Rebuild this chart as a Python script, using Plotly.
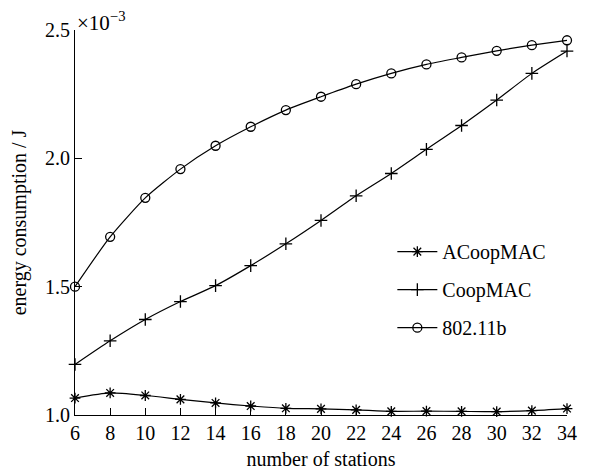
import plotly.graph_objects as go

stations = [6, 8, 10, 12, 14, 16, 18, 20, 22, 24, 26, 28, 30, 32, 34]
# energy consumption in units of 1e-3 J
acoopmac = [1.066, 1.086, 1.076, 1.061, 1.047, 1.035, 1.026, 1.024, 1.020, 1.014, 1.015, 1.014, 1.013, 1.017, 1.025]
coopmac = [1.197, 1.289, 1.372, 1.442, 1.504, 1.582, 1.667, 1.758, 1.854, 1.941, 2.035, 2.128, 2.227, 2.331, 2.418]
dot11b = [1.500, 1.694, 1.846, 1.958, 2.049, 2.123, 2.188, 2.240, 2.289, 2.331, 2.366, 2.393, 2.419, 2.441, 2.460]
y_ticks = [1.0, 1.5, 2.0, 2.5]
x_ticks = stations

FONT = "Liberation Serif"

fig = go.Figure()
series = [
    ("ACoopMAC", acoopmac, "asterisk-open"),
    ("CoopMAC", coopmac, "cross-thin-open"),
    ("802.11b", dot11b, "circle-open"),
]
for name, vals, sym in series:
    fig.add_trace(go.Scatter(
        x=stations, y=vals, name=name, mode="lines+markers", legendgroup=name,
        line=dict(color="black", width=1.2, shape="spline", smoothing=0.6),
        marker=dict(symbol=sym, size=9, color="black", line=dict(color="black", width=1.3)),
        cliponaxis=False,
    ))

# page body has an 8px default margin, so the figure is sized/positioned to compensate
fig.update_layout(
    width=586, height=466,
    margin=dict(l=67, r=27, t=22, b=59, autoexpand=False),
    paper_bgcolor="white", plot_bgcolor="white",
    font=dict(family=FONT, color="black", size=20),
    showlegend=True,
    legend=dict(
        x=0.645, y=0.475, xanchor="left", yanchor="top",
        bgcolor="rgba(0,0,0,0)", font=dict(family=FONT, size=20),
        tracegroupgap=9, itemsizing="trace", itemwidth=40,
    ),
)
fig.update_xaxes(
    range=[6, 34], tickvals=x_ticks, ticktext=[str(v) for v in x_ticks],
    showline=True, linecolor="black", linewidth=1.2, mirror=False,
    ticks="inside", ticklen=7, tickcolor="black", tickwidth=1.2,
    showgrid=False, zeroline=False, automargin=False,
    tickfont=dict(family=FONT, size=20),
    title=dict(text="number of stations", font=dict(family=FONT, size=20), standoff=8),
)
fig.update_yaxes(
    range=[1.0, 2.5], tickvals=y_ticks, ticktext=["%.1f" % v for v in y_ticks],
    showline=True, linecolor="black", linewidth=1.2, mirror=False,
    ticks="inside", ticklen=7, tickcolor="black", tickwidth=1.2,
    showgrid=False, zeroline=False, automargin=False,
    tickfont=dict(family=FONT, size=20),
    title=dict(text="energy consumption / J", font=dict(family=FONT, size=20), standoff=15),
)
fig.add_annotation(
    xref="paper", yref="paper", x=0.0, y=1.0, xanchor="left", yanchor="bottom",
    text="×10<sup>−3</sup>", showarrow=False, font=dict(family=FONT, size=21), yshift=-7,
)
fig.write_html("out.html")
